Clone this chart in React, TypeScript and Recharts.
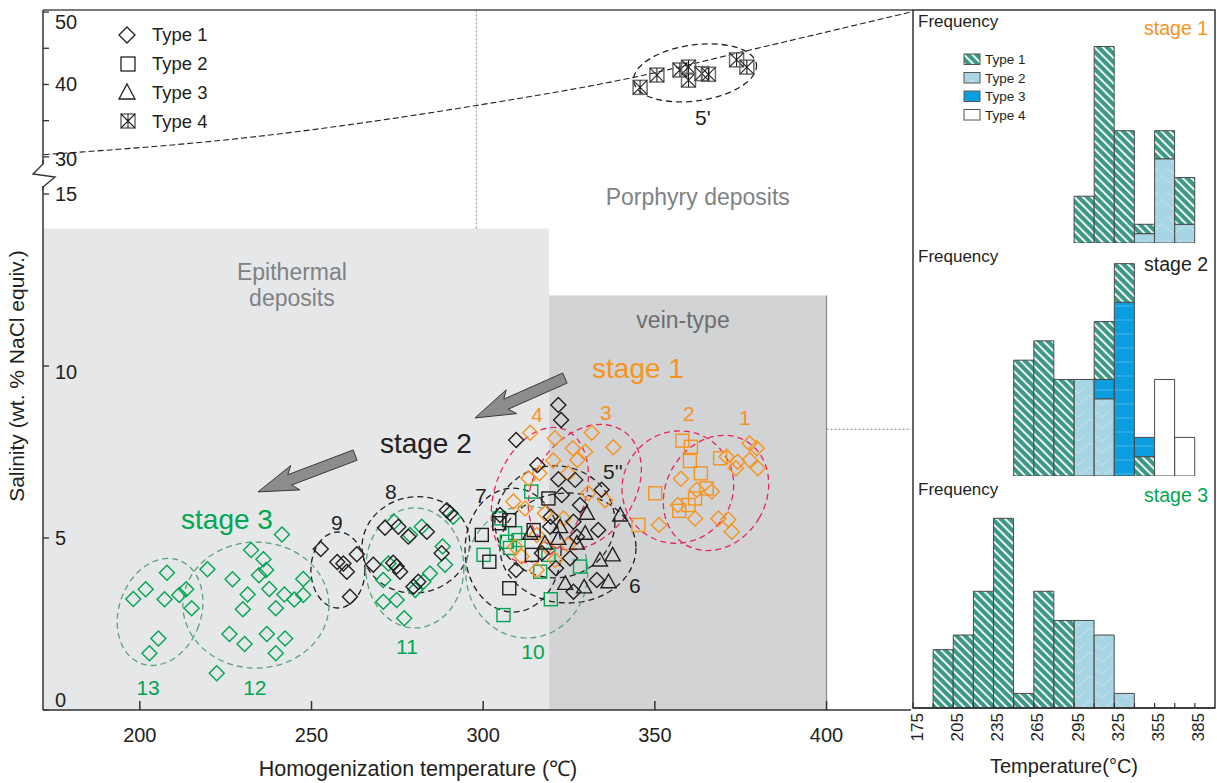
import React from 'react';
import {
  ScatterChart, Scatter, XAxis, YAxis, ReferenceArea, ReferenceLine, ReferenceDot,
  BarChart, Bar,
} from 'recharts';

const FONT = '"Liberation Sans", Arial, Helvetica, sans-serif';
const ORANGE = '#f7931e';
const BLACK = '#231f20';
const GREEN = '#00a650';
const PINK = '#e8265e';
const GREEN_DASH = '#5aa37a';

// main plot: temperature (°C) vs salinity, broken y axis (0-15 | 30-50)
const XMIN = 171.8;
const XMAX = 424.6;
const YMAX = 20.35;
const brk = (s: number) => (s >= 30 ? 16.08 + (s - 30) * 0.2105 : s);

const tempTicks = [200, 250, 300, 350, 400];
const salinityTicks = [0, 5, 10, 15, 30, 35, 40, 45, 50];
const salinityLabelled = [0, 5, 10, 15, 30, 40, 50];

// stage 1 (orange)
const stage1Type1 = [
  [313.7, 8.06], [320.9, 7.9], [331.6, 8.06], [337.9, 7.64], [326.1, 7.61], [329.7, 7.51],
  [327.4, 7.27], [320.4, 7.25], [313.2, 6.74], [316.4, 6.88], [324.8, 6.88], [330.6, 6.3],
  [335.5, 6.1], [308.8, 6.06], [312.2, 5.86], [318.0, 5.72], [323.4, 5.57], [309.3, 4.75],
  [315.6, 5.09], [311.2, 4.46], [320.9, 4.36], [315.6, 4.07], [318.5, 4.75], [324.8, 4.8],
  [377.6, 7.75], [379.7, 7.61], [370.9, 7.36], [374.1, 7.22], [377.6, 7.27], [373.6, 7.03],
  [380.0, 7.03], [357.6, 6.72], [362.2, 6.4], [366.6, 6.35], [356.7, 5.96], [361.7, 5.57],
  [368.5, 5.57], [371.4, 5.54], [372.4, 5.18], [351.2, 5.38],
];
const stage1Type2 = [
  [358.0, 7.83], [360.5, 7.65], [360.2, 7.24], [363.4, 6.88], [369.0, 7.32], [350.1, 6.3],
  [365.1, 6.44], [361.7, 6.15], [359.8, 5.96], [357.1, 5.79], [345.2, 5.38],
];

// stage 2 (black)
const stage2Type1 = [
  [321.9, 8.87], [322.7, 8.43], [309.6, 7.85], [315.8, 7.12], [321.9, 6.71], [326.8, 6.69],
  [322.9, 6.25], [328.2, 5.96], [334.5, 6.4], [304.9, 5.67], [319.5, 5.33], [326.3, 5.47],
  [333.5, 5.23], [327.3, 5.04], [317.1, 4.56], [309.6, 4.07], [325.3, 4.41], [321.2, 4.12],
  [333.1, 3.78], [326.3, 3.44], [319.7, 5.62],
  [271.4, 5.3], [275.3, 5.33], [278.2, 5.04], [283.6, 5.18], [289.4, 5.81], [290.4, 5.72],
  [287.9, 4.56], [268.0, 4.22], [273.8, 4.28], [274.8, 4.17], [275.8, 4.02], [281.1, 3.73],
  [279.7, 3.58],
  [252.7, 4.68], [257.5, 4.3], [259.3, 4.26], [260.3, 4.02], [263.2, 4.53], [261.2, 3.29],
];
const stage2Type2 = [
  [319.0, 6.15], [304.7, 5.43], [307.6, 5.52], [314.7, 5.23], [314.2, 4.51], [307.6, 3.54],
  [301.8, 4.31], [299.6, 5.09],
];
const stage2Type3 = [
  [339.9, 5.67], [330.2, 5.72], [322.4, 5.33], [321.9, 4.99], [327.3, 4.85], [329.7, 5.14],
  [318.0, 4.85], [313.7, 5.14], [334.0, 4.36], [337.7, 4.51], [336.5, 3.73], [329.4, 3.58],
  [323.9, 3.68],
];
const stage2Type4 = [
  [345.7, 39.6], [350.6, 41.3], [357.3, 42.0], [359.8, 42.4], [359.8, 40.6], [363.7, 41.5],
  [365.6, 41.4], [373.8, 43.4], [376.8, 42.4],
];

// stage 3 (green)
const stage3Type1 = [
  [207.9, 3.99], [201.7, 3.51], [198.1, 3.23], [207.2, 3.22], [211.5, 3.34], [213.5, 3.51],
  [215.1, 2.96], [205.4, 2.08], [202.8, 1.65],
  [241.4, 5.1], [219.7, 4.09], [232.4, 4.65], [236.0, 4.38], [236.8, 4.07], [234.7, 3.92],
  [227.0, 3.8], [247.6, 3.81], [237.7, 3.52], [242.1, 3.36], [231.4, 3.36], [245.0, 3.21],
  [247.6, 3.34], [230.0, 2.93], [239.6, 2.96], [226.1, 2.21], [230.5, 1.92], [237.0, 2.21],
  [242.3, 2.08], [239.6, 1.65], [222.4, 1.07],
  [274.1, 5.47], [278.7, 5.09], [282.1, 5.33], [288.2, 4.75], [288.9, 4.22], [272.4, 4.26],
  [284.5, 3.97], [282.6, 3.73], [280.2, 3.49], [270.9, 3.78], [270.9, 3.15], [274.8, 3.2],
  [277.0, 2.67], [291.3, 5.62],
];
const stage3Type2 = [
  [314.0, 6.35], [304.7, 5.57], [306.9, 4.89], [309.3, 5.14], [310.3, 4.94], [319.0, 4.51],
  [316.6, 4.02], [328.2, 4.17], [319.7, 3.22], [300.1, 4.51], [305.9, 2.76], [307.8, 4.71],
];

// halite saturation curve (dashed)
const haliteCurve = [
  [172, 30.3], [232, 32.7], [282, 35.9], [298, 37.1], [344, 41.0], [379, 44.9], [424.5, 50.0],
];

// histograms: bins of 15 °C starting at 175
const binStarts = [175, 190, 205, 220, 235, 250, 265, 280, 295, 310, 325, 340, 355, 370, 385];
const s1Type1 = [0, 0, 0, 0, 0, 0, 0, 0, 5, 21, 12, 1, 3, 5, 0];
const s1Type2 = [0, 0, 0, 0, 0, 0, 0, 0, 0, 0, 0, 1, 9, 2, 0];
const s2Type1Base = [0, 0, 0, 0, 0, 0, 0, 0, 0, 0, 0, 1, 0, 0, 0];
const s2Type1 = [0, 0, 0, 0, 0, 6, 7, 5, 0, 3, 2, 0, 0, 0, 0];
const s2Type2 = [0, 0, 0, 0, 0, 0, 0, 0, 5, 4, 0, 0, 0, 0, 0];
const s2Type3 = [0, 0, 0, 0, 0, 0, 0, 0, 0, 1, 9, 1, 0, 0, 0];
const s2Type4 = [0, 0, 0, 0, 0, 0, 0, 0, 0, 0, 0, 0, 5, 2, 0];
const s3Type1 = [0, 4, 5, 8, 13, 1, 8, 6, 0, 0, 0, 0, 0, 0, 0];
const s3Type2 = [0, 0, 0, 0, 0, 0, 0, 0, 6, 5, 1, 0, 0, 0, 0];
const zeros = binStarts.map(() => 0);

const rows = (t1base: number[], t2: number[], t3: number[], t1: number[], t4: number[]) =>
  binStarts.map((bin, i) => ({ bin, t1base: t1base[i], t2: t2[i], t3: t3[i], t1: t1[i], t4: t4[i] }));

const stage1Rows = rows(zeros, s1Type2, zeros, s1Type1, zeros);
const stage2Rows = rows(s2Type1Base, s2Type2, s2Type3, s2Type1, s2Type4);
const stage3Rows = rows(zeros, s3Type2, zeros, s3Type1, zeros);

// annotations
const ellipses = [
  { t: 367.8, s: 6.31, rx: 50, ry: 60, rot: 30, c: PINK },
  { t: 356.7, s: 6.48, rx: 55, ry: 57, rot: 40, c: PINK },
  { t: 329.6, s: 6.48, rx: 50, ry: 68, rot: 35, c: PINK },
  { t: 316.5, s: 6.25, rx: 45, ry: 70, rot: 20, c: PINK },
  { t: 320.9, s: 5.47, rx: 60, ry: 56, rot: 0, c: BLACK },
  { t: 324.7, s: 4.71, rx: 68, ry: 55, rot: 0, c: BLACK },
  { t: 308.7, s: 4.65, rx: 48, ry: 62, rot: 0, c: BLACK },
  { t: 280.4, s: 4.8, rx: 54, ry: 48, rot: -10, c: BLACK },
  { t: 257.7, s: 4.07, rx: 27, ry: 38, rot: 0, c: BLACK },
  { t: 312.7, s: 4.01, rx: 61, ry: 66, rot: 0, c: GREEN_DASH },
  { t: 280.1, s: 4.13, rx: 49, ry: 60, rot: 0, c: GREEN_DASH },
  { t: 233.8, s: 3.05, rx: 73, ry: 63, rot: 0, c: GREEN_DASH },
  { t: 205.9, s: 2.85, rx: 41, ry: 55, rot: 20, c: GREEN_DASH },
  { t: 361.7, s: 41.6, rx: 62, ry: 28, rot: -8, c: BLACK },
];

const notes = [
  { t: 376.2, s: 8.49, text: '1', c: ORANGE, size: 21 },
  { t: 359.9, s: 8.63, text: '2', c: ORANGE, size: 21 },
  { t: 335.7, s: 8.66, text: '3', c: ORANGE, size: 21 },
  { t: 315.7, s: 8.58, text: '4', c: ORANGE, size: 21 },
  { t: 337.8, s: 6.92, text: "5''", c: BLACK, size: 21 },
  { t: 344.2, s: 3.63, text: '6', c: BLACK, size: 21 },
  { t: 299.3, s: 6.25, text: '7', c: BLACK, size: 21 },
  { t: 273.1, s: 6.34, text: '8', c: BLACK, size: 21 },
  { t: 257.4, s: 5.44, text: '9', c: BLACK, size: 21 },
  { t: 314.5, s: 1.69, text: '10', c: GREEN, size: 21 },
  { t: 277.8, s: 1.86, text: '11', c: GREEN, size: 21 },
  { t: 233.5, s: 0.64, text: '12', c: GREEN, size: 21 },
  { t: 202.4, s: 0.64, text: '13', c: GREEN, size: 21 },
  { t: 364.0, s: 35.5, text: "5'", c: BLACK, size: 21 },
  { t: 345.1, s: 9.94, text: 'stage 1', c: ORANGE, size: 28 },
  { t: 283.3, s: 7.76, text: 'stage 2', c: BLACK, size: 28 },
  { t: 225.4, s: 5.55, text: 'stage 3', c: GREEN, size: 28 },
  { t: 244.3, s: 12.73, text: 'Epithermal', c: '#808285', size: 23 },
  { t: 244.3, s: 11.98, text: 'deposits', c: '#808285', size: 23 },
  { t: 358.2, s: 11.34, text: 'vein-type', c: '#6d6e71', size: 23 },
  { t: 362.5, s: 14.91, text: 'Porphyry deposits', c: '#808285', size: 23 },
];

const arrows = [
  { from: [323.8, 9.65], to: [297.6, 8.49] },
  { from: [262.7, 7.41], to: [234.4, 6.34] },
];

const toPts = (arr: number[][]) => arr.map(([x, s]) => ({ x, y: brk(s) }));

const marker = (kind: string, color: string) => (p: any) => {
  const { cx, cy } = p;
  if (cx == null || cy == null) return <g />;
  const sw = 1.4;
  if (kind === 'diamond') {
    const r = 7.5;
    return <path d={`M${cx},${cy - r}L${cx + r},${cy}L${cx},${cy + r}L${cx - r},${cy}Z`} fill="none" stroke={color} strokeWidth={sw} />;
  }
  if (kind === 'square') {
    return <rect x={cx - 6.5} y={cy - 6.5} width={13} height={13} fill="none" stroke={color} strokeWidth={sw} />;
  }
  if (kind === 'triangle') {
    return <path d={`M${cx},${cy - 7.5}L${cx + 7.5},${cy + 6}L${cx - 7.5},${cy + 6}Z`} fill="none" stroke={color} strokeWidth={sw} />;
  }
  const h = 7;
  return (
    <g fill="none" strokeWidth={1.1}>
      <rect x={cx - h} y={cy - h} width={2 * h} height={2 * h} stroke="#6d6e71" strokeWidth={1.5} />
      <path d={`M${cx - h},${cy - h}L${cx + h},${cy + h}M${cx + h},${cy - h}L${cx - h},${cy + h}M${cx},${cy - h}L${cx},${cy + h}`} stroke={color} />
    </g>
  );
};

const MainXTick = (p: any) => {
  const { x, y, payload } = p;
  return (
    <g>
      <line x1={x} y1={y} x2={x} y2={y - 9} stroke="#333" strokeWidth={1.5} />
      <text x={x} y={y + 32} textAnchor="middle" fontSize={20} fill={BLACK} fontFamily={FONT}>{payload.value}</text>
    </g>
  );
};

const SalTick = (p: any) => {
  const { x, y, payload } = p;
  const s = salinityTicks.find((t) => Math.abs(brk(t) - payload.value) < 0.01);
  const show = s !== undefined && salinityLabelled.includes(s);
  const dy = s === 50 ? 10 : s === 0 ? -10 : s === 10 ? 6 : s === 30 ? 2 : 0;
  return (
    <g>
      <line x1={x} y1={y} x2={x + 6} y2={y} stroke="#333" strokeWidth={1.3} />
      {show && <text x={x + 12} y={y + dy + 7} fontSize={20} fill={BLACK} fontFamily={FONT}>{s}</text>}
    </g>
  );
};

const BW = 302 / 15;

const BinTick = (p: any) => {
  const { x, y, payload, labels } = p;
  const xl = x - BW / 2;
  const show = labels && (payload.value - 175) % 30 === 0;
  return (
    <g>
      <line x1={xl} y1={y} x2={xl} y2={y - 5} stroke="#333" strokeWidth={1.2} />
      {show && (
        <text transform={`translate(${xl + 4},${y + 5}) rotate(-90)`} textAnchor="end" dominantBaseline="central" fontSize={17} fill={BLACK} fontFamily={FONT}>
          {payload.value}
        </text>
      )}
    </g>
  );
};

const FreqTick = (p: any) => {
  const { x, y, payload, labels } = p;
  const show = labels.includes(payload.value);
  return (
    <g>
      <line x1={x} y1={y} x2={x + 5} y2={y} stroke="#333" strokeWidth={1.2} />
      {show && <text x={x + 9} y={y + 6} fontSize={16} fill={BLACK} fontFamily={FONT}>{payload.value}</text>}
    </g>
  );
};

const arrowShape = (p: any) => {
  const { x1, y1, x2, y2 } = p;
  const dx = x2 - x1;
  const dy = y2 - y1;
  const L = Math.hypot(dx, dy);
  const ux = dx / L, uy = dy / L;
  const nx = -uy, ny = ux;
  const w = 5.5, hw = 13, hl = 34;
  const bx = x2 - ux * hl, by = y2 - uy * hl;
  const bk = 6;
  const pts = [
    [x1 + nx * w, y1 + ny * w],
    [bx + nx * w, by + ny * w],
    [bx - ux * bk + nx * hw, by - uy * bk + ny * hw],
    [x2, y2],
    [bx - ux * bk - nx * hw, by - uy * bk - ny * hw],
    [bx - nx * w, by - ny * w],
    [x1 - nx * w, y1 - ny * w],
  ];
  return <polygon points={pts.map((q) => q.join(',')).join(' ')} fill="#8a8c8e" stroke="#3a3a3a" strokeWidth={1} />;
};

const Histogram = ({ rows: data, top, height, marginTop, yMax, yTicks, yLabels, axisH }: any) => (
  <div style={{ position: 'absolute', left: 910, top }}>
    <BarChart width={307} height={height} data={data} margin={{ top: marginTop, right: 2, bottom: 0, left: 3 }} barCategoryGap={0} barGap={0}>
      <XAxis
        dataKey="bin"
        type="category"
        height={axisH}
        interval={0}
        tickLine={false}
        tickSize={0}
        tickMargin={0}
        axisLine={{ stroke: '#333', strokeWidth: 1.5 }}
        tick={(p: any) => <BinTick {...p} labels={axisH > 0} />}
      />
      <YAxis
        type="number"
        width={0}
        domain={[0, yMax]}
        ticks={yTicks}
        interval={0}
        allowDataOverflow
        tickLine={false}
        tickSize={0}
        tickMargin={0}
        axisLine={{ stroke: '#333', strokeWidth: 1.5 }}
        tick={(p: any) => <FreqTick {...p} labels={yLabels} />}
      />
      <Bar dataKey="t1base" stackId="s" fill="url(#pT1)" stroke="#4a4a4a" strokeWidth={1} isAnimationActive={false} />
      <Bar dataKey="t2" stackId="s" fill="url(#pT2)" stroke="#4a4a4a" strokeWidth={1} isAnimationActive={false} />
      <Bar dataKey="t3" stackId="s" fill="url(#pT3)" stroke="#4a4a4a" strokeWidth={1} isAnimationActive={false} />
      <Bar dataKey="t1" stackId="s" fill="url(#pT1)" stroke="#4a4a4a" strokeWidth={1} isAnimationActive={false} />
      <Bar dataKey="t4" stackId="s" fill="#ffffff" stroke="#4a4a4a" strokeWidth={1} isAnimationActive={false} />
    </BarChart>
  </div>
);

const App: React.FC = () => {
  return (
    <div style={{ position: 'fixed', left: 0, top: 0, width: 1217, height: 783, background: '#fff', fontFamily: FONT }}>
      <svg width={0} height={0} style={{ position: 'absolute' }}>
        <defs>
          <pattern id="pT1" width={6} height={6} patternUnits="userSpaceOnUse" patternTransform="rotate(-45)">
            <rect width={6} height={6} fill="#3d9985" />
            <rect x={0} y={0} width={1.8} height={6} fill="#ffffff" />
          </pattern>
          <pattern id="pT2" width={24} height={24} patternUnits="userSpaceOnUse">
            <rect width={24} height={24} fill="#a8d5e4" />
            <path d="M0,18L12,8L24,18M0,6L12,-4L24,6" fill="none" stroke="#ffffff" strokeOpacity={0.45} strokeWidth={0.8} />
          </pattern>
          <pattern id="pT3" width={14} height={14} patternUnits="userSpaceOnUse">
            <rect width={14} height={14} fill="#0a9ddf" />
            <line x1={0} y1={7} x2={14} y2={7} stroke="#ffffff" strokeOpacity={0.3} strokeWidth={0.8} />
          </pattern>
        </defs>
      </svg>

      <div style={{ position: 'absolute', left: 0, top: 0 }}>
        <ScatterChart width={913} height={783} margin={{ top: 10, right: 2, bottom: 0, left: 0 }}>
          <XAxis
            dataKey="x"
            type="number"
            domain={[XMIN, XMAX]}
            ticks={tempTicks}
            interval={0}
            allowDataOverflow
            height={73}
            tickLine={false}
            tickSize={0}
            tickMargin={0}
            axisLine={{ stroke: '#333', strokeWidth: 1.5 }}
            tick={MainXTick}
          />
          <YAxis
            dataKey="y"
            type="number"
            domain={[0, YMAX]}
            ticks={salinityTicks.map(brk)}
            interval={0}
            allowDataOverflow
            width={43}
            tickLine={false}
            tickSize={0}
            tickMargin={0}
            axisLine={{ stroke: '#333', strokeWidth: 1.5 }}
            tick={SalTick}
          />
          <ReferenceArea x1={XMIN} x2={319.2} y1={0} y2={14} fill="#e6e7e8" fillOpacity={1} stroke="none" />
          <ReferenceArea x1={319.2} x2={400} y1={0} y2={12.05} fill="#d1d3d4" fillOpacity={1} stroke="none" />
          <ReferenceLine segment={[{ x: 400, y: 0 }, { x: 400, y: 12.05 }]} stroke="#8a8a8a" strokeWidth={1.2} />
          <ReferenceLine segment={[{ x: 298, y: 14 }, { x: 298, y: YMAX }]} stroke="#8a8a8a" strokeWidth={1} strokeDasharray="2 2" />
          <ReferenceLine segment={[{ x: 400, y: 8.16 }, { x: XMAX, y: 8.16 }]} stroke="#8a8a8a" strokeWidth={1} strokeDasharray="2 2" />

          <Scatter
            data={toPts(haliteCurve)}
            line={{ stroke: BLACK, strokeWidth: 1.1, strokeDasharray: '6 3' }}
            lineJointType="monotoneX"
            shape={() => <g />}
            isAnimationActive={false}
          />

          {ellipses.map((e, i) => (
            <ReferenceDot
              key={`e${i}`}
              x={e.t}
              y={brk(e.s)}
              ifOverflow="visible"
              shape={(p: any) => (
                <ellipse
                  cx={p.cx}
                  cy={p.cy}
                  rx={e.rx}
                  ry={e.ry}
                  transform={`rotate(${e.rot} ${p.cx} ${p.cy})`}
                  fill="none"
                  stroke={e.c}
                  strokeWidth={1.3}
                  strokeDasharray="6 4"
                />
              )}
            />
          ))}

          <Scatter data={toPts(stage3Type1)} shape={marker('diamond', GREEN)} isAnimationActive={false} />
          <Scatter data={toPts(stage3Type2)} shape={marker('square', GREEN)} isAnimationActive={false} />
          <Scatter data={toPts(stage1Type1)} shape={marker('diamond', ORANGE)} isAnimationActive={false} />
          <Scatter data={toPts(stage1Type2)} shape={marker('square', ORANGE)} isAnimationActive={false} />
          <Scatter data={toPts(stage2Type1)} shape={marker('diamond', BLACK)} isAnimationActive={false} />
          <Scatter data={toPts(stage2Type2)} shape={marker('square', BLACK)} isAnimationActive={false} />
          <Scatter data={toPts(stage2Type3)} shape={marker('triangle', BLACK)} isAnimationActive={false} />
          <Scatter data={toPts(stage2Type4)} shape={marker('box', BLACK)} isAnimationActive={false} />

          {arrows.map((a, i) => (
            <ReferenceLine
              key={`a${i}`}
              segment={[{ x: a.from[0], y: a.from[1] }, { x: a.to[0], y: a.to[1] }]}
              shape={arrowShape}
            />
          ))}

          {notes.map((n, i) => (
            <ReferenceDot
              key={`n${i}`}
              x={n.t}
              y={brk(n.s)}
              ifOverflow="visible"
              shape={(p: any) => (
                <text x={p.cx} y={p.cy} textAnchor="middle" dominantBaseline="central" fontSize={n.size} fill={n.c} fontFamily={FONT}>
                  {n.text}
                </text>
              )}
            />
          ))}
        </ScatterChart>
      </div>

      <Histogram rows={stage1Rows} top={0} height={243} marginTop={10} yMax={24.9} yTicks={[5, 10, 15, 20]} yLabels={[5, 10, 15, 20]} axisH={0} />
      <Histogram rows={stage2Rows} top={243} height={233} marginTop={0} yMax={12.07} yTicks={[2, 4, 6, 8, 10]} yLabels={[2, 4, 6, 8, 10]} axisH={0} />
      <Histogram rows={stage3Rows} top={476} height={307} marginTop={0} yMax={15.9} yTicks={[2, 4, 6, 8, 10, 12, 14]} yLabels={[2, 6, 10, 14]} axisH={75} />

      <svg width={1217} height={783} style={{ position: 'absolute', left: 0, top: 0, pointerEvents: 'none' }} fontFamily={FONT}>
        {/* frames */}
        <line x1={43} y1={10} x2={913} y2={10} stroke="#4d4d4d" strokeWidth={1.5} />
        <rect x={913} y={10} width={302} height={698} fill="none" stroke="#333" strokeWidth={1.5} />
        {/* axis break */}
        <rect x={36} y={164} width={22} height={22} fill="#fff" />
        <path d="M43,160 L43,164 L33,174 L55,177 L43,187 L43,190" fill="none" stroke="#333" strokeWidth={1.4} />

        {/* main legend */}
        <path d="M127,27 L135,35 L127,43 L119,35 Z" fill="none" stroke={BLACK} strokeWidth={1.3} />
        <rect x={121} y={57} width={14} height={14} fill="none" stroke={BLACK} strokeWidth={1.3} />
        <path d="M127,84 L135,99 L119,99 Z" fill="none" stroke={BLACK} strokeWidth={1.3} />
        <rect x={121} y={114} width={14} height={14} fill="none" stroke="#6d6e71" strokeWidth={1.5} />
        <path d="M121,114 L135,128 M135,114 L121,128 M128,114 L128,128" stroke={BLACK} strokeWidth={1.1} />
        {['Type 1', 'Type 2', 'Type 3', 'Type 4'].map((t, i) => (
          <text key={t} x={152} y={41 + i * 29} fontSize={18.5} fill={BLACK}>{t}</text>
        ))}

        {/* axis titles */}
        <text x={418} y={776} textAnchor="middle" fontSize={21.5} fill={BLACK}>Homogenization temperature (℃)</text>
        <text transform="translate(24,376) rotate(-90)" textAnchor="middle" fontSize={21} fill={BLACK}>Salinity (wt. % NaCl equiv.)</text>
        <text x={1064} y={773} textAnchor="middle" fontSize={20} fill={BLACK}>Temperature(°C)</text>

        {/* histogram headers */}
        <text x={918} y={27} fontSize={17} fill={BLACK}>Frequency</text>
        <text x={918} y={262} fontSize={17} fill={BLACK}>Frequency</text>
        <text x={918} y={495} fontSize={17} fill={BLACK}>Frequency</text>
        <text x={1208} y={35} textAnchor="end" fontSize={19.5} fill={ORANGE}>stage 1</text>
        <text x={1208} y={271} textAnchor="end" fontSize={19.5} fill={BLACK}>stage 2</text>
        <text x={1208} y={502} textAnchor="end" fontSize={19.5} fill={GREEN}>stage 3</text>

        {/* histogram legend */}
        {['url(#pT1)', 'url(#pT2)', 'url(#pT3)', '#ffffff'].map((f, i) => (
          <rect key={i} x={964} y={54 + i * 18.5} width={16} height={10.5} fill={f} stroke="#555" strokeWidth={1} />
        ))}
        {['Type 1', 'Type 2', 'Type 3', 'Type 4'].map((t, i) => (
          <text key={t} x={985} y={64 + i * 18.5} fontSize={13.5} fill={BLACK}>{t}</text>
        ))}
      </svg>
    </div>
  );
};

export default App;
